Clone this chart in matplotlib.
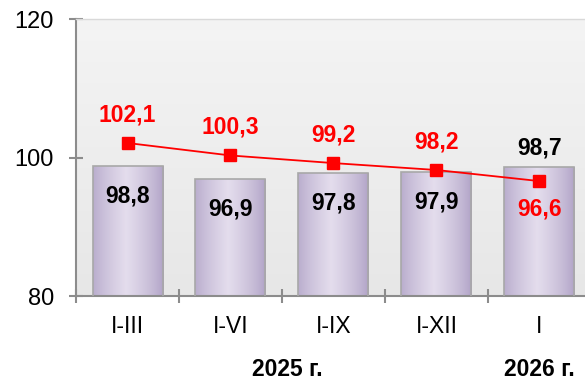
import numpy as np
import matplotlib
matplotlib.use("Agg")
import matplotlib.pyplot as plt
from matplotlib.colors import LinearSegmentedColormap
from matplotlib.transforms import blended_transform_factory

# Data
periods = ["I-III", "I-VI", "I-IX", "I-XII", "I"]
bar_values = [98.8, 96.9, 97.8, 97.9, 98.7]
line_values = [102.1, 100.3, 99.2, 98.2, 96.6]
years = ["2025 г.", "2026 г."]
year_positions = [1.55, 4]
y_ticks = [80, 100, 120]


def fmt(v):
    return f"{v:.1f}".replace(".", ",")


plt.rcParams['font.family'] = ['Liberation Sans', 'DejaVu Sans']

fig = plt.figure(figsize=(5.85, 3.81), dpi=100)
ax = fig.add_axes([0.13, 0.223, 0.88, 0.727])
x = np.arange(len(periods))

# Plot-area background: soft vertical grey gradient
bg = np.linspace(0, 1, 256).reshape(-1, 1)
bg_cmap = LinearSegmentedColormap.from_list("bg", ["#f4f4f4", "#e7e7e7"])
ax.imshow(bg, cmap=bg_cmap, extent=[0, 1, 0, 1], transform=ax.transAxes,
          aspect="auto", zorder=0, interpolation="bilinear")

ax.set_xlim(-0.5, len(periods) - 0.5)
ax.set_ylim(y_ticks[0], y_ticks[-1])

# Bars with a horizontal lilac gradient
t = np.linspace(0, 1, 256)
prof = np.clip(1 - np.abs(t - 0.47) / 0.53, 0, 1) ** 0.7
bar_cmap = LinearSegmentedColormap.from_list("bar", ["#ad9fc4", "#e4dded"])
bars = ax.bar(x, bar_values, width=0.68, facecolor="none",
              edgecolor="#a8a8a8", linewidth=1.2, zorder=3)
for b in bars:
    x0, w, h = b.get_x(), b.get_width(), b.get_height()
    im = ax.imshow(prof.reshape(1, -1), cmap=bar_cmap, vmin=0, vmax=1,
                   extent=[x0, x0 + w, y_ticks[0], h], aspect="auto",
                   zorder=2, interpolation="bilinear")
    im.set_clip_path(b)
ax.set_xlim(-0.5, len(periods) - 0.5)
ax.set_ylim(y_ticks[0], y_ticks[-1])

# Red line with square markers
ax.plot(x, line_values, color="#ff0000", lw=1.3, marker="s", ms=9,
        zorder=5, clip_on=False)

# Value labels
for i, v in enumerate(bar_values):
    dy = 19 if i == len(bar_values) - 1 else -30
    ax.annotate(fmt(v), (x[i], v), xytext=(0, dy), textcoords="offset pixels",
                ha="center", va="center", fontsize=16.5, fontweight="bold",
                color="black", zorder=6)
for i, v in enumerate(line_values):
    dy = -28 if i == len(line_values) - 1 else 28
    ax.annotate(fmt(v), (x[i], v), xytext=(0, dy), textcoords="offset pixels",
                ha="center", va="center", fontsize=16.5, fontweight="bold",
                color="#ff0000", zorder=6)

# Axes styling
for s in ("left", "bottom"):
    ax.spines[s].set_color("#8c8c8c")
    ax.spines[s].set_linewidth(1.5)
ax.spines["top"].set_color("#d9d9d9")
ax.spines["top"].set_linewidth(1)
ax.spines["right"].set_visible(False)

ax.set_yticks(y_ticks)
ax.tick_params(axis="y", direction="inout", length=10, width=1.5,
               color="#8c8c8c", labelsize=17, pad=11)
ax.set_xticks(x)
ax.set_xticklabels(periods)
ax.tick_params(axis="x", which="major", length=0, labelsize=16.5, pad=14)
ax.set_xticks(np.arange(-0.5, len(periods)), minor=True)
ax.tick_params(axis="x", which="minor", direction="inout", length=10,
               width=1.5, color="#8c8c8c")

# Year captions under the category labels
trans = blended_transform_factory(ax.transData, ax.transAxes)
for label, pos in zip(years, year_positions):
    ax.text(pos, -0.267, label, transform=trans, ha="center", va="center",
            fontsize=16.5, fontweight="bold", clip_on=False)

fig.savefig("out.png", dpi=100)
